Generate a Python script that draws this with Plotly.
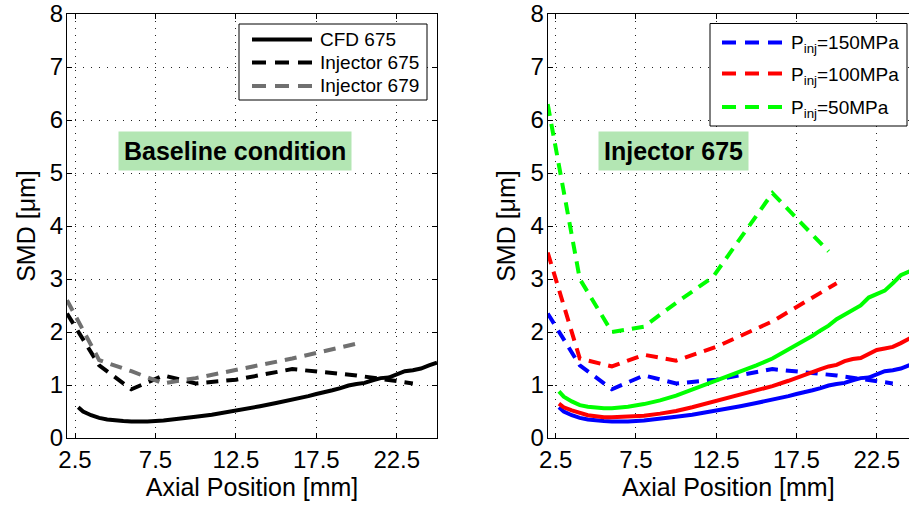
import plotly.graph_objects as go

# ---------------- data ----------------
x_cfd = [2.7, 3.0, 3.5, 4.0, 4.5, 5.0, 5.5, 6.0, 7.0, 8.0, 9.0, 10.0, 11.0, 12.0, 13.0,
         14.0, 15.0, 16.0, 17.0, 17.5, 18.0, 18.5, 19.0, 19.5, 20.0, 20.5, 21.0, 21.5,
         22.0, 22.5, 23.0, 23.5, 24.0, 24.5, 25.0]
cfd_150 = [0.58, 0.50, 0.43, 0.38, 0.35, 0.33, 0.32, 0.31, 0.31, 0.33, 0.36, 0.40, 0.44, 0.49, 0.54,
           0.60, 0.66, 0.72, 0.79, 0.83, 0.86, 0.90, 0.94, 0.99, 1.02, 1.04, 1.09, 1.13,
           1.14, 1.20, 1.26, 1.28, 1.31, 1.37, 1.42]
cfd_100 = [0.65, 0.58, 0.52, 0.47, 0.43, 0.41, 0.39, 0.39, 0.40, 0.42, 0.46, 0.51, 0.58, 0.66, 0.74,
           0.81, 0.89, 0.98, 1.08, 1.14, 1.19, 1.24, 1.30, 1.35, 1.38, 1.45, 1.49, 1.51,
           1.58, 1.66, 1.69, 1.72, 1.79, 1.88, 1.95]
cfd_50 = [0.88, 0.78, 0.69, 0.62, 0.59, 0.57, 0.56, 0.56, 0.59, 0.64, 0.71, 0.80, 0.91, 1.02, 1.13,
          1.24, 1.37, 1.50, 1.67, 1.76, 1.83, 1.93, 2.03, 2.12, 2.24, 2.33, 2.40, 2.50,
          2.65, 2.72, 2.78, 2.92, 3.07, 3.14, 3.17]

x_inj675 = [2, 4, 6, 8, 10, 12.5, 16, 20, 23.5]
inj_675 = [2.35, 1.37, 0.92, 1.18, 1.03, 1.10, 1.30, 1.18, 1.03]
x_inj679 = [2, 4, 6, 8, 10, 12.5, 16, 20]
inj_679 = [2.60, 1.47, 1.26, 1.03, 1.13, 1.28, 1.50, 1.78]
x_inj100 = [2, 4, 6, 8, 10, 12.5, 16, 20]
inj_100 = [3.50, 1.50, 1.35, 1.57, 1.46, 1.72, 2.20, 2.92]
x_inj50 = [2, 4, 6, 8, 10, 12.3, 16, 19.5]
inj_50 = [6.30, 3.00, 2.00, 2.10, 2.55, 3.04, 4.62, 3.52]

x_ticks = [2.5, 7.5, 12.5, 17.5, 22.5]
x_ticklabels = ["2.5", "7.5", "12.5", "17.5", "22.5"]
y_ticks = [0, 1, 2, 3, 4, 5, 6, 7, 8]

left_names = ["CFD 675", "Injector 675", "Injector 679"]
right_names = ["P<sub>inj</sub>=150MPa", "P<sub>inj</sub>=100MPa", "P<sub>inj</sub>=50MPa"]

FONT = "Liberation Sans, Arial, Helvetica, sans-serif"
DASH = "12px,8px"
LDASH = "14px,9px"
LW = 4

W, H, MT, MB = 909, 506, 14, 68
PH = H - MT - MB


def px(v):
    return v / W


def py(v):
    return 1 - (v - MT) / PH


fig = go.Figure()

# left panel
left_styles = [dict(color="black", width=LW),
               dict(color="black", width=LW, dash=DASH),
               dict(color="#707070", width=LW, dash=DASH)]
fig.add_trace(go.Scatter(x=x_cfd, y=cfd_150, mode="lines", name=left_names[0],
                         line=left_styles[0], xaxis="x", yaxis="y", showlegend=False))
fig.add_trace(go.Scatter(x=x_inj675, y=inj_675, mode="lines", name=left_names[1],
                         line=left_styles[1], xaxis="x", yaxis="y", showlegend=False))
fig.add_trace(go.Scatter(x=x_inj679, y=inj_679, mode="lines", name=left_names[2],
                         line=left_styles[2], xaxis="x", yaxis="y", showlegend=False))

# right panel
right_colors = ["#0000ff", "#ff0000", "#00ff00"]
fig.add_trace(go.Scatter(x=x_inj675, y=inj_675, mode="lines", name=right_names[0],
                         line=dict(color=right_colors[0], width=LW, dash=DASH), xaxis="x2", yaxis="y2", showlegend=False))
fig.add_trace(go.Scatter(x=x_inj100, y=inj_100, mode="lines", name=right_names[1],
                         line=dict(color=right_colors[1], width=LW, dash=DASH), xaxis="x2", yaxis="y2", showlegend=False))
fig.add_trace(go.Scatter(x=x_inj50, y=inj_50, mode="lines", name=right_names[2],
                         line=dict(color=right_colors[2], width=LW, dash=DASH), xaxis="x2", yaxis="y2", showlegend=False))
fig.add_trace(go.Scatter(x=x_cfd, y=cfd_150, mode="lines", showlegend=False, name="CFD 150MPa",
                         line=dict(color=right_colors[0], width=LW), xaxis="x2", yaxis="y2"))
fig.add_trace(go.Scatter(x=x_cfd, y=cfd_100, mode="lines", showlegend=False, name="CFD 100MPa",
                         line=dict(color=right_colors[1], width=LW), xaxis="x2", yaxis="y2"))
fig.add_trace(go.Scatter(x=x_cfd, y=cfd_50, mode="lines", showlegend=False, name="CFD 50MPa",
                         line=dict(color=right_colors[2], width=LW), xaxis="x2", yaxis="y2"))

common_x = dict(tickmode="array", tickvals=x_ticks, ticktext=x_ticklabels, automargin=False,
                showgrid=True, gridcolor="#222", gridwidth=1, griddash="1px,6px",
                zeroline=False, showline=True, linecolor="black", linewidth=1,
                ticks="inside", ticklen=5, tickcolor="black",
                tickfont=dict(size=24, color="black", family=FONT),
                title=dict(text="Axial Position [mm]", font=dict(size=25, color="black", family=FONT), standoff=2))
common_y = dict(range=[0, 8], tickmode="array", tickvals=y_ticks, automargin=False,
                showgrid=True, gridcolor="#222", gridwidth=1, griddash="1px,7px",
                zeroline=False, showline=True, linecolor="black", linewidth=1,
                ticks="inside", ticklen=5, tickcolor="black", ticklabelstandoff=-2,
                tickfont=dict(size=24, color="black", family=FONT),
                title=dict(text="SMD [μm]", font=dict(size=25, color="black", family=FONT), standoff=7))

shapes = []
annotations = []

# ---- manual legends (boxes, samples, labels) ----
# left legend
shapes.append(dict(type="rect", xref="paper", yref="paper", x0=px(239), x1=px(427), y0=py(100), y1=py(24),
                   line=dict(color="black", width=1), fillcolor="white", layer="above"))
left_leg_y = [39.5, 62.5, 86]
for name, st, yy in zip(left_names, left_styles, left_leg_y):
    s = dict(st)
    if "dash" in s:
        s["dash"] = LDASH
    shapes.append(dict(type="line", xref="paper", yref="paper", x0=px(252), x1=px(312),
                       y0=py(yy), y1=py(yy), line=s, layer="above"))
    annotations.append(dict(text=name, xref="paper", yref="paper", x=px(318), y=py(yy),
                            xanchor="left", yanchor="middle", showarrow=False,
                            font=dict(size=19, color="black", family=FONT)))

# right legend
shapes.append(dict(type="rect", xref="paper", yref="paper", x0=px(710), x1=px(907), y0=py(126), y1=py(23.5),
                   line=dict(color="black", width=1), fillcolor="white", layer="above"))
right_leg_y = [42.5, 73.5, 107]
for name, col, yy in zip(right_names, right_colors, right_leg_y):
    shapes.append(dict(type="line", xref="paper", yref="paper", x0=px(722), x1=px(782),
                       y0=py(yy), y1=py(yy), line=dict(color=col, width=LW, dash=LDASH), layer="above"))
    annotations.append(dict(text=name, xref="paper", yref="paper", x=px(789), y=py(yy - 12),
                            xanchor="left", yanchor="top", showarrow=False,
                            font=dict(size=19, color="black", family=FONT)))

annotations += [
    dict(text="<b>Baseline condition</b>", x=12.46, y=5.41, xref="x", yref="y",
         showarrow=False, bgcolor="#b3e6b3", borderpad=5,
         font=dict(size=25, color="black", family=FONT)),
    dict(text="<b>Injector 675</b>", x=9.83, y=5.41, xref="x2", yref="y2",
         showarrow=False, bgcolor="#b3e6b3", borderpad=5,
         font=dict(size=25, color="black", family=FONT)),
]

fig.update_layout(
    width=W, height=H,
    margin=dict(l=0, r=0, t=MT, b=MB, autoexpand=False),
    paper_bgcolor="white", plot_bgcolor="white",
    font=dict(family=FONT, color="black"),
    showlegend=False,
    xaxis=dict(domain=[67 / W, 437 / W], range=[2, 25], anchor="y", mirror="ticks", **common_x),
    yaxis=dict(domain=[0, 1], anchor="x", mirror="ticks", **common_y),
    xaxis2=dict(domain=[547.7 / W, 1.0], range=[2, 24.51], anchor="y2", mirror="ticks", **common_x),
    yaxis2=dict(domain=[0, 1], anchor="x2", mirror=False, **common_y),
    shapes=shapes,
    annotations=annotations,
)

fig.write_html("out.html")
